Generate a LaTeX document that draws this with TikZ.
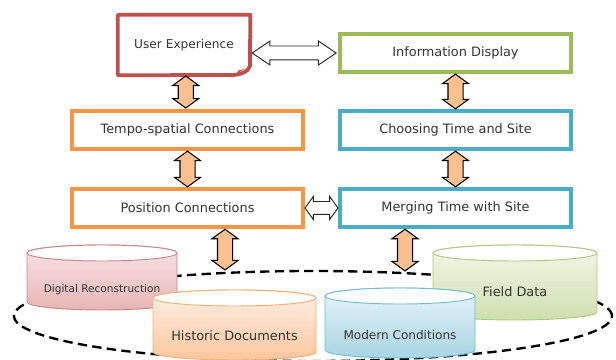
\documentclass[tikz,border=0pt]{standalone}
\usepackage{fontspec}
\setmainfont{DejaVu Sans}
\usetikzlibrary{shapes.arrows, calc}

\definecolor{uxred}{HTML}{C0504D}
\definecolor{infogreen}{HTML}{9BBB59}
\definecolor{siteblue}{HTML}{4BACC6}
\definecolor{linkorange}{HTML}{F79646}
\definecolor{linkfill}{HTML}{FAC090}
\definecolor{labelgray}{HTML}{333333}
\definecolor{reconline}{HTML}{C98584}
\definecolor{recontop}{HTML}{F9E6E6}
\definecolor{reconbot}{HTML}{E6B5B4}
\definecolor{histline}{HTML}{F8AE72}
\definecolor{histtop}{HTML}{FEF1E6}
\definecolor{histbot}{HTML}{FAC69C}
\definecolor{modline}{HTML}{72BCD1}
\definecolor{modtop}{HTML}{E8F5F9}
\definecolor{modbot}{HTML}{A8D5E3}
\definecolor{fieldline}{HTML}{AFC77F}
\definecolor{fieldtop}{HTML}{F3F7EA}
\definecolor{fieldbot}{HTML}{CFDFAE}

\begin{document}
\begin{tikzpicture}[
        x=0.3mm, y=0.3mm,
        font=\fontsize{11}{13}\selectfont, text=labelgray,
        box/.style={draw, line width=3.2pt, minimum width=69.3mm, minimum height=11.6mm, inner sep=0pt},
        vlink/.style={double arrow, shape border rotate=90, draw=black, fill=linkfill, line width=0.9pt,
            inner sep=2.1mm, double arrow head extend=1.65mm, double arrow tip angle=108},
        hlink/.style={double arrow, draw=black!85, fill=white, line width=0.8pt,
            inner sep=1.95mm, double arrow head extend=1.5mm},
        drum/.style={line width=0.8pt},
        ring/.style={draw=black, line width=2pt, dash pattern=on 2.8mm off 1.6mm}
    ]
    \useasboundingbox (0,0) rectangle (616,360);

    % the data ring
    \draw[ring] (313,44) ellipse [x radius=299, y radius=45];

    % back drums
    \draw[drum, draw=reconline, top color=recontop, bottom color=reconbot]
        (27,107) -- (27,58) arc [start angle=180, end angle=360, x radius=75, y radius=8]
        -- (177,107) arc [start angle=0, end angle=180, x radius=75, y radius=8] -- cycle;
    \draw[drum, draw=reconline, fill=white] (102,107) ellipse [x radius=75, y radius=8];
    \node[font=\fontsize{9}{11}\selectfont] (recon) at (102,70) {Digital Reconstruction};

    \draw[drum, draw=fieldline, top color=fieldtop, bottom color=fieldbot]
        (433,107) -- (433,48) arc [start angle=180, end angle=360, x radius=82, y radius=8]
        -- (597,107) arc [start angle=0, end angle=180, x radius=82, y radius=8] -- cycle;
    \draw[drum, draw=fieldline, fill=white] (515,107) ellipse [x radius=82, y radius=8];
    \node (field) at (515,68) {Field Data};

    % front drums
    \draw[drum, draw=histline, top color=histtop, bottom color=histbot]
        (153,62) -- (153,8) arc [start angle=180, end angle=360, x radius=81.5, y radius=8]
        -- (316,62) arc [start angle=0, end angle=180, x radius=81.5, y radius=8] -- cycle;
    \draw[drum, draw=histline, fill=white] (234.5,62) ellipse [x radius=81.5, y radius=8];
    \node (hist) at (234.5,24) {Historic Documents};

    \draw[drum, draw=modline, top color=modtop, bottom color=modbot]
        (325,64) -- (325,10) arc [start angle=180, end angle=360, x radius=75, y radius=8]
        -- (475,64) arc [start angle=0, end angle=180, x radius=75, y radius=8] -- cycle;
    \draw[drum, draw=modline, fill=white] (400,64) ellipse [x radius=75, y radius=8];
    \node[font=\fontsize{10.3}{12}\selectfont] (modern) at (400,25) {Modern Conditions};

    % boxes
    \node[minimum width=39.6mm, minimum height=18mm, inner sep=0pt,
        font=\fontsize{10.4}{12}\selectfont] (ux) at (184,315) {User Experience};
    \draw[uxred, line width=3.2pt, line join=round] (ux.north west) -- (ux.north east) -- (250,294)
        .. controls (248,288) and (242,286) .. (234,285) -- (ux.south west) -- cycle;
    \fill[uxred] (250,294) .. controls (246,291) and (242,290) .. (239,290) -- (236,286) -- cycle;

    \node[box, draw=infogreen] (info) at (455.5,307) {Information Display};
    \node[box, draw=siteblue] (choose) at (455.5,230) {Choosing Time and Site};
    \node[box, draw=siteblue] (merge) at (455.5,152) {Merging Time with Site};
    \node[box, draw=linkorange] (tempo) at (187.5,230) {Tempo-spatial Connections};
    \node[box, draw=linkorange] (pos) at (187.5,152) {Position Connections};

    \coordinate (posend) at (225,90);
    \coordinate (mergeend) at (405,89);

    % links
    \node[vlink, minimum height=9.6mm] (uxtempo) at ($(ux.south)!.5!(tempo.north)$) {};
    \node[vlink, minimum height=10.7mm] (tempopos) at ($(tempo.south)!.5!(pos.north)$) {};
    \node[vlink, minimum height=10.4mm] (infochoose) at ($(info.south)!.5!(choose.north)$) {};
    \node[vlink, minimum height=10.7mm] (choosemerge) at ($(choose.south)!.5!(merge.north)$) {};
    \node[vlink, minimum height=12.2mm] (posring) at ($(pos.south -| posend)!.5!(posend)$) {};
    \node[vlink, minimum height=12.5mm] (mergering) at ($(merge.south -| mergeend)!.5!(mergeend)$) {};
    \node[hlink, minimum height=25.2mm, double arrow tip angle=68] (uxinfo)
        at ($(ux.east |- info.west)!.5!(info.west)$) {};
    \node[hlink, minimum height=9.9mm, inner sep=1.8mm, double arrow tip angle=108] (posmerge)
        at ($(pos.east)!.5!(merge.west)$) {};
\end{tikzpicture}
\end{document}
